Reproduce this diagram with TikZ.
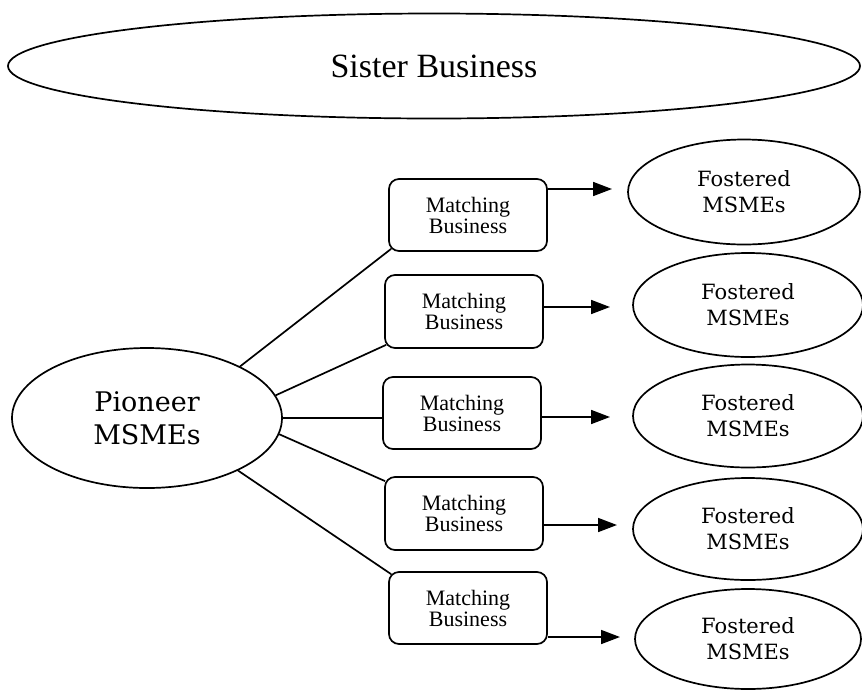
\documentclass[tikz,border=0pt]{standalone}
\usepackage{fontspec}
\setmainfont{Liberation Serif}
\newfontfamily\slab{DejaVu Serif}
\usetikzlibrary{shapes.geometric,arrows.meta,calc}
\begin{document}
\begin{tikzpicture}[x=1pt,y=-1pt,line width=1.7pt,
  oval/.style={ellipse,draw,inner sep=0pt,align=center},
  mbox/.style={draw,rounded corners=10pt,minimum width=158pt,minimum height=72pt,inner sep=0pt,align=center,font=\fontsize{22}{21}\selectfont},
  fost/.style={oval,minimum width=230pt,minimum height=103pt,font=\slab\fontsize{21}{26}\selectfont},
  arr/.style={-{Triangle[length=19pt,width=14pt]}}]
\path[use as bounding box,fill=white] (0,0) rectangle (862,689);

\node[oval,minimum width=852pt,minimum height=105pt,font=\fontsize{34}{40}\selectfont] (sis) at (434,66) {Sister Business};

\node[oval,minimum width=270pt,minimum height=140pt,font=\slab\fontsize{27}{33}\selectfont] (pio) at (147,418) {Pioneer\\MSMEs};

\node[mbox] (m1) at (468,215) {Matching\\Business};
\node[mbox,minimum height=73pt] (m2) at (464,311.5) {Matching\\Business};
\node[mbox] (m3) at (462,413) {Matching\\Business};
\node[mbox,minimum height=73pt] (m4) at (464,513.5) {Matching\\Business};
\node[mbox] (m5) at (468,608) {Matching\\Business};

\node[fost,minimum width=232pt,minimum height=105pt] (f1) at (744,192) {Fostered\\MSMEs};
\node[fost,minimum height=104pt] (f2) at (748,305) {Fostered\\MSMEs};
\node[fost] (f3) at (748,416) {Fostered\\MSMEs};
\node[fost,minimum height=102pt] (f4) at (748,529) {Fostered\\MSMEs};
\node[fost,minimum width=226pt,minimum height=100pt] (f5) at (748,639) {Fostered\\MSMEs};

% links from pioneer
\draw (pio.29.7) -- ($(m1.south west)+(3,-3)$);
\draw (pio.10.4) -- ($(m2.south west)+(2,-4)$);
\draw (pio.east) -- (m3.west |- pio.east);
\draw (pio.-7.6) -- ($(m4.north west)+(1,5)$);
\draw (pio.-30.6) -- ($(m5.north west)+(3,3)$);

% arrows
\coordinate (t1) at (612,189);
\coordinate (t2) at (610,307);
\coordinate (t3) at (610,417);
\coordinate (t4) at (617,525);
\coordinate (t5) at (620,637);
\draw[arr] (m1.east |- t1) -- (t1);
\draw[arr] (m2.east |- t2) -- (t2);
\draw[arr] (m3.east |- t3) -- (t3);
\draw[arr] (m4.east |- t4) -- (t4);
\draw[arr] (m5.east |- t5) -- (t5);
\end{tikzpicture}
\end{document}
